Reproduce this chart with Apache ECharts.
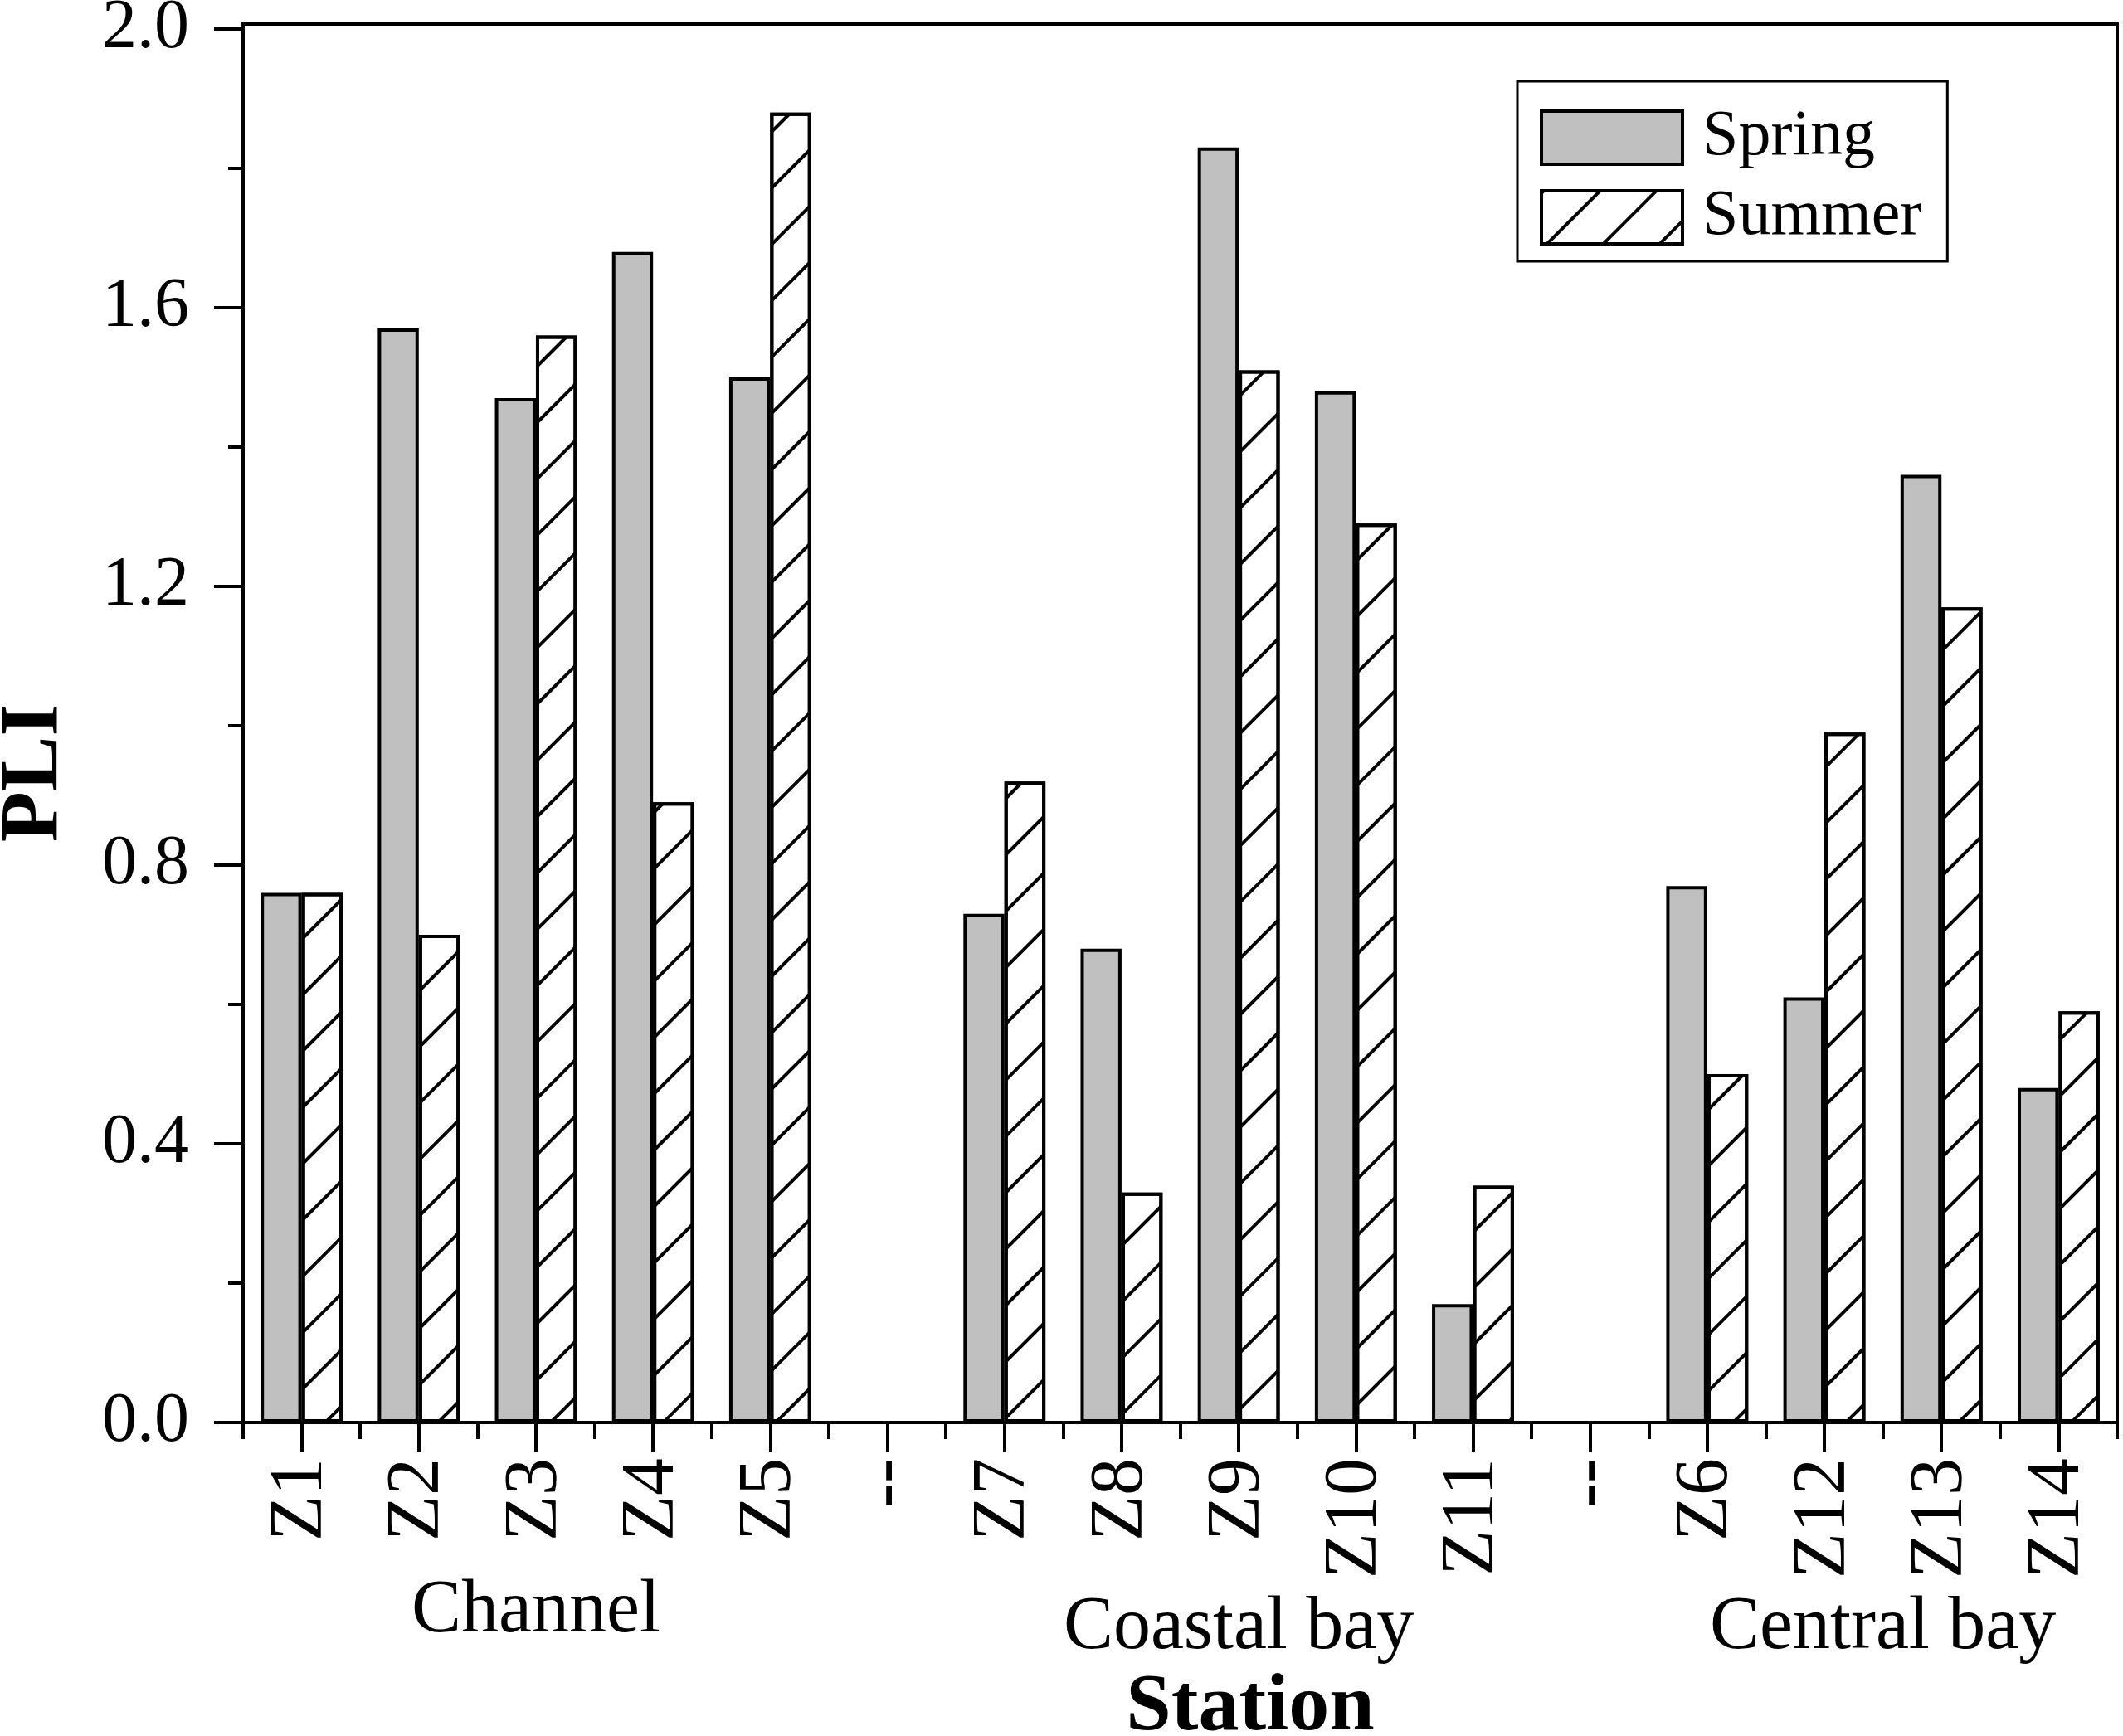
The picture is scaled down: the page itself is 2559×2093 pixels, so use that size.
<!DOCTYPE html>
<html>
<head>
<meta charset="utf-8">
<script src="https://cdn.jsdelivr.net/npm/echarts@6/dist/echarts.min.js"></script>
<style>
html,body{margin:0;padding:0;background:#fff;}
#chart{width:2559px;height:2093px;}
</style>
</head>
<body>
<div id="chart"></div>
<script>
// ---- data ----
const categories = ['Z1','Z2','Z3','Z4','Z5','--','Z7','Z8','Z9','Z10','Z11','--','Z6','Z12','Z13','Z14'];
const springValues = [0.76,1.57,1.47,1.68,1.50,null,0.73,0.68,1.83,1.48,0.17,null,0.77,0.61,1.36,0.48];
const summerValues = [0.76,0.70,1.56,0.89,1.88,null,0.92,0.33,1.51,1.29,0.34,null,0.50,0.99,1.17,0.59];
const yTickValues = [0, 0.4, 0.8, 1.2, 1.6, 2.0];
const groupNames = ['Channel', 'Coastal bay', 'Central bay'];
const groupFirst = [0, 6, 12];   // first category index of each group
const groupLast = [4, 10, 15];   // last category index of each group

const FONT = '"Liberation Serif", "Times New Roman", serif';
const chart = echarts.init(document.getElementById('chart'));

const option = {
  animation: false,
  backgroundColor: '#fff',
  grid: {
    left: 293, right: 7, top: 29, bottom: 378,
    show: true, borderColor: '#000', borderWidth: 4,
    outerBoundsMode: 'none'
  },
  legend: {
    orient: 'vertical',
    left: 1829, top: 98,
    itemWidth: 170, itemHeight: 64, itemGap: 18,
    padding: [29, 31, 14, 27],
    borderColor: '#000', borderWidth: 3,
    icon: 'rect',
    selectedMode: false,
    itemStyle: { borderWidth: 4, borderColor: '#000' },
    textStyle: { fontSize: 78, lineHeight: 64, fontFamily: FONT, color: '#000', padding: [0, 0, 0, 19] },
    data: ['Spring', 'Summer']
  },
  xAxis: [
    {
      type: 'category',
      data: categories,
      position: 'bottom',
      axisLine: { show: true, lineStyle: { color: '#000', width: 4 } },
      axisTick: { show: true, alignWithLabel: true, interval: 0, length: 35, lineStyle: { color: '#000', width: 4 } },
      axisLabel: { rotate: 90, interval: 0, fontSize: 90, fontFamily: FONT, color: '#000', margin: 43 },
      splitLine: { show: false }
    },
    {
      type: 'category',
      data: categories,
      position: 'bottom',
      axisLine: { show: false },
      axisTick: { show: true, interval: 0, length: 20, lineStyle: { color: '#000', width: 4 } },
      axisLabel: { show: false },
      splitLine: { show: false }
    }
  ],
  yAxis: {
    type: 'value',
    min: 0, max: 2.007, interval: 0.4,
    axisLine: { show: true, lineStyle: { color: '#000', width: 4 } },
    axisTick: { show: true, length: 35, customValues: yTickValues, lineStyle: { color: '#000', width: 4 } },
    minorTick: { show: true, splitNumber: 2, length: 18, lineStyle: { color: '#000', width: 4 } },
    axisLabel: {
      customValues: yTickValues,
      formatter: v => v.toFixed(1),
      fontSize: 84, fontFamily: FONT, color: '#000', margin: 65
    },
    splitLine: { show: false }
  },
  series: [
    {
      name: 'Spring',
      type: 'bar',
      xAxisIndex: 0,
      data: springValues,
      barGap: '0%',
      barCategoryGap: '30%',
      itemStyle: { color: '#c0c0c0', borderColor: '#000', borderWidth: 4 }
    },
    {
      name: 'Summer',
      type: 'bar',
      xAxisIndex: 0,
      data: summerValues,
      barGap: '0%',
      barCategoryGap: '30%',
      itemStyle: {
        color: '#fff', borderColor: '#000', borderWidth: 4,
        decal: {
          symbol: 'rect', symbolSize: 1, color: '#000',
          dashArrayX: [1, 0], dashArrayY: [4, 44],
          rotation: -Math.PI / 4
        }
      }
    }
  ]
};
chart.setOption(option);

// group labels centred under their categories
const groupY = [1943, 1963, 1963];
const graphics = groupNames.map((name, i) => {
  const x0 = chart.convertToPixel({ xAxisIndex: 0 }, groupFirst[i]);
  const x1 = chart.convertToPixel({ xAxisIndex: 0 }, groupLast[i]);
  return {
    type: 'text',
    x: (x0 + x1) / 2, y: groupY[i],
    style: {
      text: name, fontSize: 90, fontFamily: FONT, fill: '#000',
      align: 'center', verticalAlign: 'middle',
      textAlign: 'center', textVerticalAlign: 'middle'
    }
  };
});
graphics.push({
  type: 'text', x: 1507, y: 2060,
  style: {
    text: 'Station', fontSize: 98, fontWeight: 'bold', fontFamily: FONT, fill: '#000',
    align: 'center', verticalAlign: 'middle', textAlign: 'center', textVerticalAlign: 'middle'
  }
});
graphics.push({
  type: 'text', x: 42, y: 932, rotation: Math.PI / 2,
  style: {
    text: 'PLI', fontSize: 100, fontWeight: 'bold', fontFamily: FONT, fill: '#000',
    align: 'center', verticalAlign: 'middle', textAlign: 'center', textVerticalAlign: 'middle'
  }
});
chart.setOption({ graphic: graphics });
</script>
</body>
</html>
